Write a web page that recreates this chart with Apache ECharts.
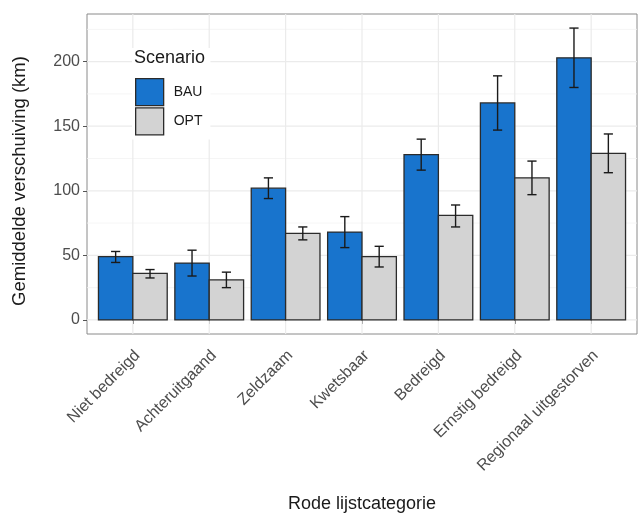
<!DOCTYPE html>
<html>
<head>
<meta charset="utf-8">
<script src="https://cdn.jsdelivr.net/npm/echarts@6/dist/echarts.min.js"></script>
<style>
html,body{margin:0;padding:0;background:#fff;}
#chart{width:638px;height:513px;}
</style>
</head>
<body>
<div id="chart"></div>
<script>
const categories = ['Niet bedreigd','Achteruitgaand','Zeldzaam','Kwetsbaar','Bedreigd','Ernstig bedreigd','Regionaal uitgestorven'];
const bauValues = [49, 44, 102, 68, 128, 168, 203];
const bauLow    = [44.5, 34, 94, 56, 116, 147, 180];
const bauHigh   = [53, 54, 110, 80, 140, 189, 226];
const optValues = [36, 31, 67, 49, 81, 110, 129];
const optLow    = [32.5, 25, 62, 41, 72, 97, 114];
const optHigh   = [39, 37, 72, 57, 89, 123, 144];
const yTicks = [0, 50, 100, 150, 200];
const yMinor = [25, 75, 125, 175, 225];
const seriesNames = ['BAU', 'OPT'];

const FONT = "'Liberation Sans', Arial, sans-serif";
const BAR_W = 0.45;
const CAP = 0.06;
const LABEL_SHIFT = 0.06;
const catPos = categories.map((c, i) => i + 1);

function gridItem(params, api) {
  const type = api.value(2);
  const cs = params.coordSys;
  if (type === 2) {
    const x = api.coord([api.value(0), 0])[0];
    return {type: 'line', shape: {x1: x, y1: cs.y, x2: x, y2: cs.y + cs.height},
      style: {stroke: '#ebebeb', lineWidth: 1.2}, silent: true};
  }
  const y = api.coord([1, api.value(1)])[1];
  return {type: 'line', shape: {x1: cs.x, y1: y, x2: cs.x + cs.width, y2: y},
    style: {stroke: type === 0 ? '#ebebeb' : '#f3f3f3', lineWidth: type === 0 ? 1.2 : 0.8}, silent: true};
}

function barRenderer(side, fill) {
  return function (params, api) {
    const x = api.value(0);
    const v = api.value(1), lo = api.value(2), hi = api.value(3);
    const xl = side === 0 ? x - BAR_W : x;
    const xr = side === 0 ? x : x + BAR_W;
    const xc = (xl + xr) / 2;
    const pTop = api.coord([xl, v]);
    const pBot = api.coord([xr, 0]);
    const pLo = api.coord([xc, lo]);
    const pHi = api.coord([xc, hi]);
    const cl = api.coord([xc - CAP, lo])[0];
    const cr = api.coord([xc + CAP, lo])[0];
    const es = {stroke: '#1a1a1a', lineWidth: 1.4};
    return {type: 'group', children: [
      {type: 'rect', shape: {x: pTop[0], y: pTop[1], width: pBot[0] - pTop[0], height: pBot[1] - pTop[1]},
        style: {fill: fill, stroke: '#2b2b2b', lineWidth: 1.3}},
      {type: 'line', shape: {x1: pLo[0], y1: pLo[1], x2: pHi[0], y2: pHi[1]}, style: es},
      {type: 'line', shape: {x1: cl, y1: pLo[1], x2: cr, y2: pLo[1]}, style: es},
      {type: 'line', shape: {x1: cl, y1: pHi[1], x2: cr, y2: pHi[1]}, style: es}
    ]};
  };
}

const gridData = []
  .concat(yTicks.map(v => [1, v, 0]))
  .concat(yMinor.map(v => [1, v, 1]))
  .concat(catPos.map(v => [v, 0, 2]));

const chart = echarts.init(document.getElementById('chart'), null, {renderer: 'canvas'});
chart.setOption({
  animation: false,
  backgroundColor: '#ffffff',
  title: {
    text: 'Scenario', left: 134, top: 49, padding: 0,
    textStyle: {fontFamily: FONT, fontSize: 18, fontWeight: 'normal', color: '#1a1a1a'}
  },
  legend: {
    orient: 'vertical', left: 132, top: 48,
    padding: [30, 8, 4, 3],
    backgroundColor: '#ffffff',
    itemWidth: 28, itemHeight: 27, itemGap: 1,
    icon: 'rect',
    textStyle: {fontFamily: FONT, fontSize: 14, color: '#1a1a1a', padding: [0, 0, 0, 5]},
    data: [
      {name: seriesNames[0], itemStyle: {color: '#1874CD', borderColor: '#2b2b2b', borderWidth: 1.3}},
      {name: seriesNames[1], itemStyle: {color: '#D3D3D3', borderColor: '#2b2b2b', borderWidth: 1.3}}
    ]
  },
  grid: {
    left: 87, right: 1, top: 14, bottom: 179,
    outerBoundsMode: 'none',
    containLabel: false,
    show: true, borderColor: '#8a8a8a', borderWidth: 1, backgroundColor: 'transparent'
  },
  xAxis: {
    type: 'value', min: 0.4, max: 7.6,
    name: 'Rode lijstcategorie', nameLocation: 'middle', nameGap: 161,
    nameTextStyle: {fontFamily: FONT, fontSize: 18, color: '#1a1a1a'},
    axisLine: {show: false},
    splitLine: {show: false},
    axisTick: {show: true, customValues: catPos, length: 4, lineStyle: {color: '#555', width: 1}},
    axisLabel: {
      customValues: catPos.map(p => p + LABEL_SHIFT),
      rotate: 45, margin: 19,
      fontFamily: FONT, fontSize: 16, color: '#4d4d4d',
      formatter: function (val) { return categories[Math.round(val - LABEL_SHIFT) - 1] || ''; }
    }
  },
  yAxis: {
    type: 'value', min: -10.9, max: 236.9,
    name: 'Gemiddelde verschuiving (km)', nameLocation: 'middle', nameGap: 58, nameRotate: 90,
    nameTextStyle: {fontFamily: FONT, fontSize: 18.5, color: '#1a1a1a', padding: [0, 14, 0, 0]},
    axisLine: {show: false},
    splitLine: {show: false},
    axisTick: {show: true, customValues: yTicks, length: 4, lineStyle: {color: '#555', width: 1}},
    axisLabel: {customValues: yTicks, margin: 7, fontFamily: FONT, fontSize: 16, color: '#4d4d4d'}
  },
  series: [
    {
      type: 'custom', name: 'grid', silent: true, z: 1,
      renderItem: gridItem, data: gridData, encode: {x: 0, y: 1}
    },
    {
      type: 'custom', name: seriesNames[0], z: 3,
      itemStyle: {color: '#1874CD'},
      renderItem: barRenderer(0, '#1874CD'),
      encode: {x: 0, y: 1},
      data: catPos.map((p, i) => [p, bauValues[i], bauLow[i], bauHigh[i]])
    },
    {
      type: 'custom', name: seriesNames[1], z: 3,
      itemStyle: {color: '#D3D3D3'},
      renderItem: barRenderer(1, '#D3D3D3'),
      encode: {x: 0, y: 1},
      data: catPos.map((p, i) => [p, optValues[i], optLow[i], optHigh[i]])
    }
  ]
});
</script>
</body>
</html>
